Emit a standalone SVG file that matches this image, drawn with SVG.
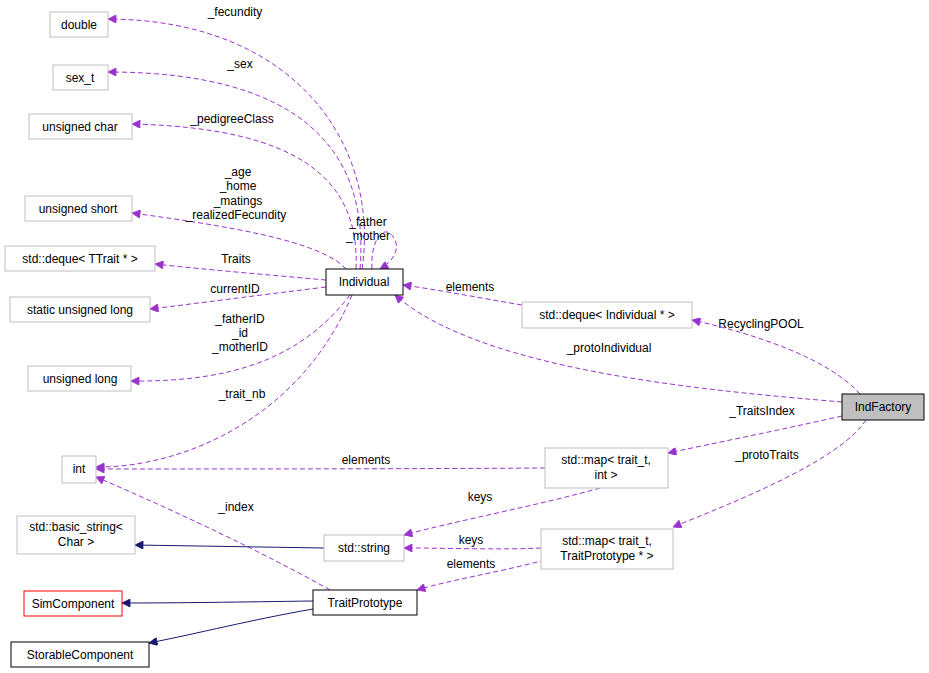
<svg xmlns="http://www.w3.org/2000/svg" width="929" height="673" viewBox="0 0 929 673">
<style>
text{font-family:"Liberation Sans",Arial,sans-serif;font-size:12px;fill:#000}
.n rect{fill:#fff;stroke:#bfbfbf;stroke-width:1}
.b rect{stroke:#000}
.r rect{stroke:#ff0000}
.m{text-anchor:middle}
.e path{fill:none;stroke:#9a32cd;stroke-dasharray:5,3;marker-end:url(#ap)}
.e path.i{stroke:#191970;stroke-dasharray:none;marker-end:url(#an)}
</style>
<defs>
<marker id="ap" viewBox="0 0 10 10" refX="10" refY="5" markerWidth="10" markerHeight="8" orient="auto" markerUnits="userSpaceOnUse"><path d="M0,0L10,5L0,10z" fill="#9a32cd" stroke="#9a32cd"/></marker>
<marker id="an" viewBox="0 0 10 10" refX="10" refY="5" markerWidth="10" markerHeight="8" orient="auto" markerUnits="userSpaceOnUse"><path d="M0,0L10,5L0,10z" fill="#191970" stroke="#191970"/></marker>
</defs>
<rect width="929" height="673" fill="#fff"/>
<g class="e" id="connectors">
<path d="M362,269C380,150 300,20 108,19"/>
<path d="M360,269C370,150 300,72 108,72"/>
<path d="M356,269C360,180 300,128 132,124"/>
<path d="M346,269C320,240 220,225 132,213"/>
<path d="M326,280C270,275 210,270 155,264"/>
<path d="M326,287C260,295 200,303 150,309"/>
<path d="M350,295C300,360 230,382 131,381"/>
<path d="M352,295C300,420 180,468 96,467"/>
<path d="M372,269C370,240 385,220 395,240C400,250 392,262 380,269"/>
<path d="M522,305C480,298 440,290 403,285"/>
<path d="M842,402C700,390 480,370 395,295"/>
<path d="M860,394C830,360 760,335 692,320"/>
<path d="M842,416C780,430 720,442 668,453"/>
<path d="M866,420C840,460 740,500 673,527"/>
<path d="M545,468C400,469 200,469 96,469"/>
<path d="M600,488C540,505 460,520 404,535"/>
<path d="M541,548C500,550 450,548 404,548"/>
<path d="M545,560C500,572 450,580 417,590"/>
<path d="M330,590C250,545 150,500 96,477"/>
<path class="i" d="M324,548C260,547 200,546 135,545"/>
<path class="i" d="M313,601C240,602 180,603 122,603"/>
<path class="i" d="M313,609C250,620 200,633 149,643"/>
<text x="235" y="16" class="m">_fecundity</text>
<text x="240" y="68" class="m">_sex</text>
<text x="232" y="123" class="m">_pedigreeClass</text>
<text x="238" y="176" class="m">_age</text>
<text x="238" y="190" class="m">_home</text>
<text x="238" y="205" class="m">_matings</text>
<text x="236" y="219" class="m">_realizedFecundity</text>
<text x="236" y="263" class="m">Traits</text>
<text x="235" y="293" class="m">currentID</text>
<text x="240" y="323" class="m">_fatherID</text>
<text x="240" y="337" class="m">_id</text>
<text x="240" y="351" class="m">_motherID</text>
<text x="242" y="398" class="m">_trait_nb</text>
<text x="368" y="226" class="m">_father</text>
<text x="368" y="240" class="m">_mother</text>
<text x="470" y="291" class="m">elements</text>
<text x="609" y="352" class="m">_protoIndividual</text>
<text x="761" y="328" class="m">RecyclingPOOL</text>
<text x="762" y="415" class="m">_TraitsIndex</text>
<text x="767" y="459" class="m">_protoTraits</text>
<text x="366" y="464" class="m">elements</text>
<text x="480" y="501" class="m">keys</text>
<text x="471" y="544" class="m">keys</text>
<text x="471" y="568" class="m">elements</text>
<text x="236" y="511" class="m">_index</text>
</g>
<g class="n" id="double"><rect x="50" y="12" width="58" height="25"/><text x="79" y="29" class="m">double</text></g>
<g class="n" id="sex_t"><rect x="53" y="65" width="55" height="25"/><text x="80" y="82" class="m">sex_t</text></g>
<g class="n" id="uchar"><rect x="29" y="114" width="103" height="25"/><text x="80" y="131" class="m">unsigned char</text></g>
<g class="n" id="ushort"><rect x="25" y="196" width="107" height="25"/><text x="78" y="213" class="m">unsigned short</text></g>
<g class="n" id="dequeT"><rect x="5" y="246" width="150" height="25"/><text x="80" y="263" class="m">std::deque&lt; TTrait * &gt;</text></g>
<g class="n" id="sul"><rect x="10" y="297" width="140" height="25"/><text x="80" y="314" class="m">static unsigned long</text></g>
<g class="n" id="ulong"><rect x="28" y="366" width="103" height="25"/><text x="80" y="383" class="m">unsigned long</text></g>
<g class="n" id="int"><rect x="62" y="456" width="34" height="27"/><text x="79" y="473" class="m">int</text></g>
<g class="n" id="bstring"><rect x="17" y="516" width="118" height="38"/><text x="76" y="531" class="m">std::basic_string&lt;</text><text x="76" y="546" class="m">Char &gt;</text></g>
<g class="n r" id="SimComponent"><rect x="24" y="591" width="98" height="25"/><text x="73" y="608" class="m">SimComponent</text></g>
<g class="n b" id="StorableComponent"><rect x="11" y="642" width="138" height="25"/><text x="80" y="659" class="m">StorableComponent</text></g>
<g class="n b" id="Individual"><rect x="326" y="269" width="77" height="26"/><text x="364" y="286" class="m">Individual</text></g>
<g class="n" id="dequeInd"><rect x="522" y="302" width="170" height="26"/><text x="607" y="319" class="m">std::deque&lt; Individual * &gt;</text></g>
<g class="n b" id="IndFactory"><rect x="842" y="394" width="82" height="26" style="fill:#bfbfbf"/><text x="883" y="411" class="m">IndFactory</text></g>
<g class="n" id="mapInt"><rect x="545" y="448" width="123" height="40"/><text x="606" y="464" class="m">std::map&lt; trait_t,</text><text x="606" y="479" class="m">int &gt;</text></g>
<g class="n" id="string"><rect x="324" y="535" width="80" height="26"/><text x="364" y="552" class="m">std::string</text></g>
<g class="n" id="mapTP"><rect x="541" y="529" width="132" height="40"/><text x="607" y="545" class="m">std::map&lt; trait_t,</text><text x="607" y="560" class="m">TraitPrototype * &gt;</text></g>
<g class="n b" id="TraitPrototype"><rect x="313" y="590" width="104" height="25"/><text x="365" y="607" class="m">TraitPrototype</text></g>
</svg>
